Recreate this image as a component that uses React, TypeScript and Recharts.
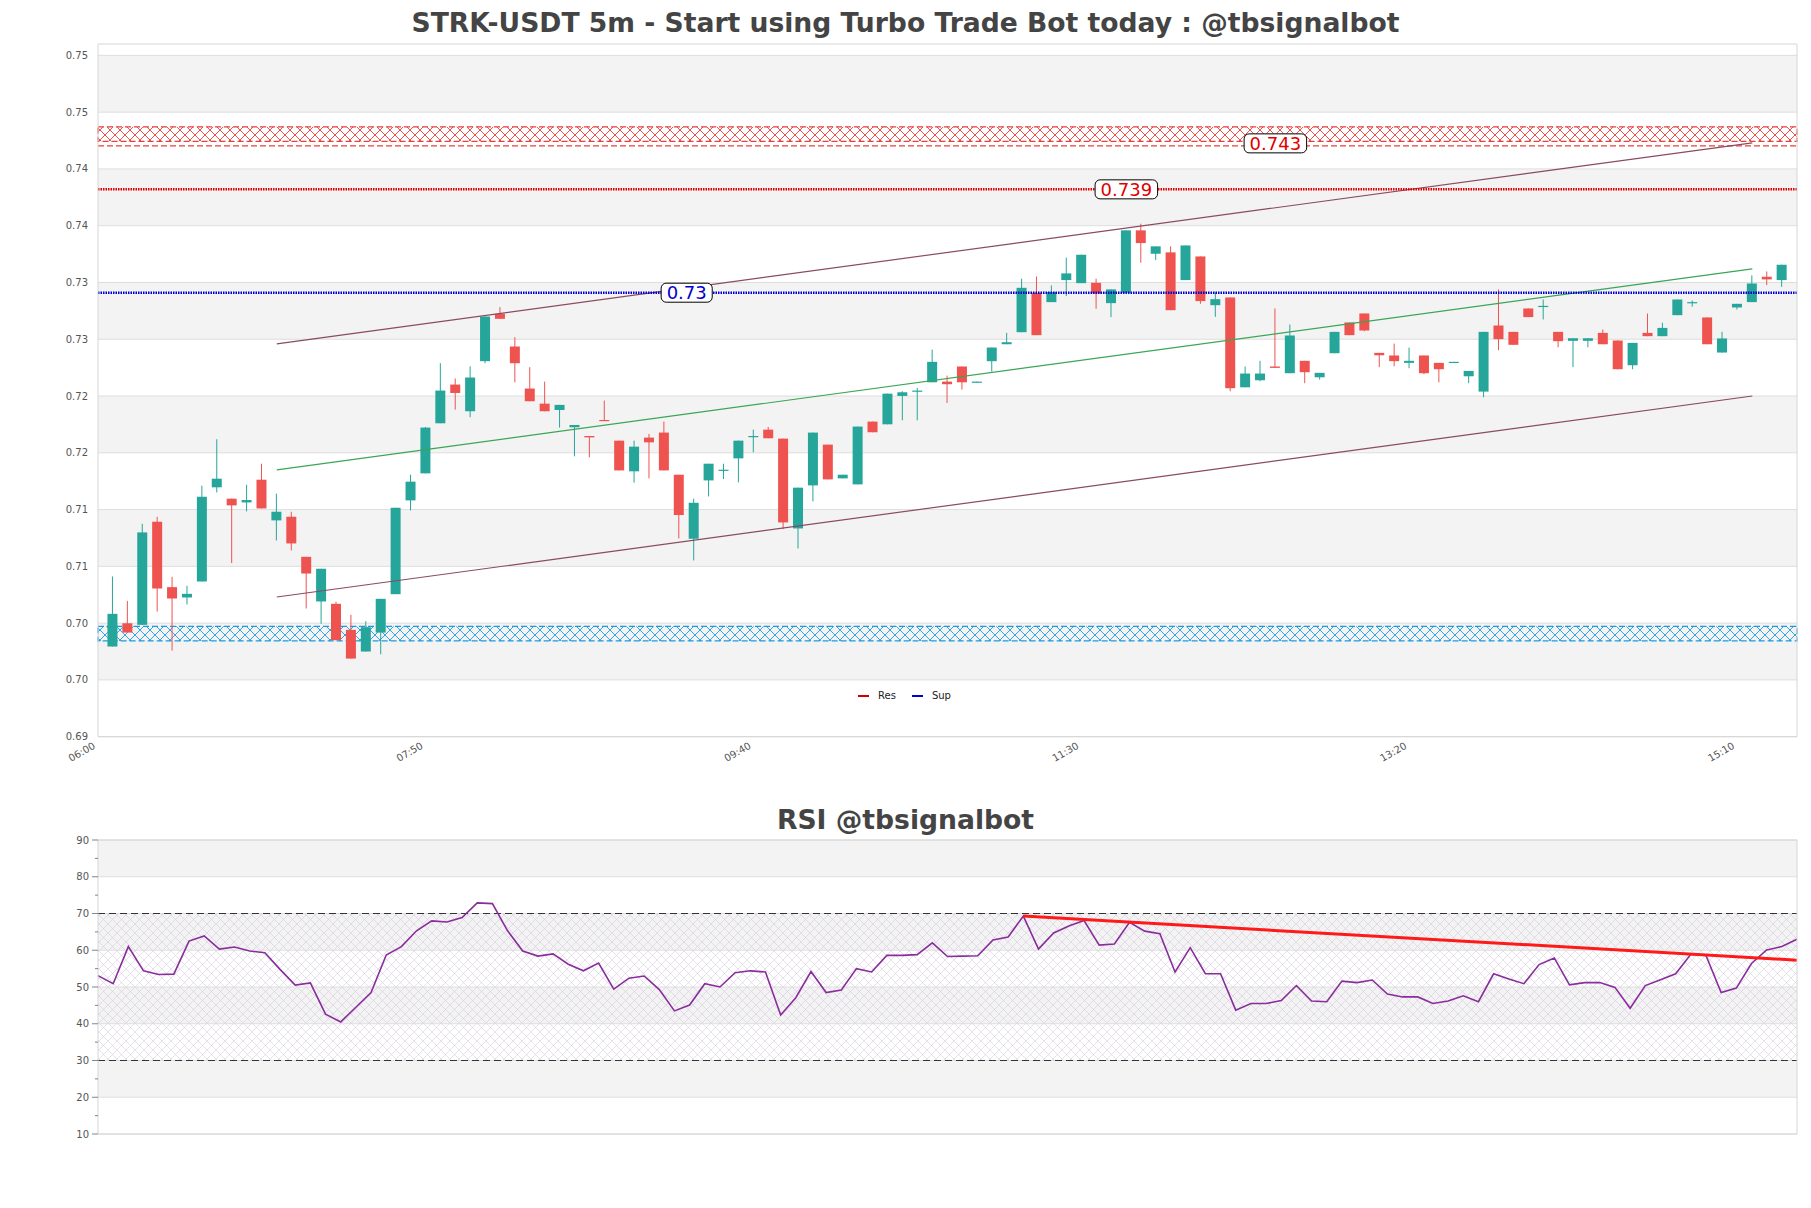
import React from 'react';
import {
  ComposedChart,
  Bar,
  Line,
  XAxis,
  YAxis,
  ReferenceArea,
  ReferenceLine,
  ReferenceDot,
} from 'recharts';

// 5m candles, 06:05 .. 15:25 (index 0..112)
const candleOpen = [
  0.69894, 0.70099, 0.70085, 0.70993, 0.70417, 0.70326, 0.70467, 0.71296, 0.71196, 0.71163,
  0.71363, 0.71005, 0.71037, 0.70684, 0.70291, 0.7027, 0.70041, 0.6985, 0.70017, 0.70355,
  0.71181, 0.71419, 0.7186, 0.72201, 0.71966, 0.72407, 0.72824, 0.72536, 0.72166, 0.72033,
  0.71977, 0.71825, 0.71748, 0.71889, 0.71707, 0.71437, 0.71734, 0.71778, 0.71407, 0.70843,
  0.71357, 0.71445, 0.71551, 0.71739, 0.71804, 0.71725, 0.70934, 0.71313, 0.71672, 0.71375,
  0.71322, 0.71875, 0.71851, 0.72101, 0.72142, 0.72221, 0.72227, 0.7236, 0.72221, 0.72407,
  0.72556, 0.72662, 0.73009, 0.72927, 0.73121, 0.73094, 0.73097, 0.72918, 0.73009, 0.73559,
  0.73353, 0.73365, 0.73121, 0.73329, 0.729, 0.72968, 0.72177, 0.72239, 0.7236, 0.72301,
  0.7241, 0.72265, 0.72477, 0.72748, 0.72827, 0.7248, 0.72457, 0.72392, 0.72457, 0.72392,
  0.72398, 0.72274, 0.72139, 0.72721, 0.72665, 0.72871, 0.72889, 0.72665, 0.72586, 0.72586,
  0.72656, 0.72589, 0.72371, 0.72656, 0.72627, 0.72812, 0.72921, 0.72792, 0.72483, 0.7288,
  0.72927, 0.7315, 0.73121,
];
const candleHigh = [
  0.70511, 0.70296, 0.70975, 0.71037, 0.70508, 0.70429, 0.7131, 0.71719, 0.71196, 0.71319,
  0.71504, 0.7124, 0.71081, 0.70684, 0.70579, 0.70288, 0.70173, 0.70117, 0.70314, 0.71116,
  0.71407, 0.71828, 0.72389, 0.72254, 0.72362, 0.728, 0.72883, 0.72618, 0.72354, 0.72227,
  0.72022, 0.71845, 0.71748, 0.7206, 0.71707, 0.71707, 0.71766, 0.71875, 0.71407, 0.71196,
  0.71504, 0.71504, 0.71707, 0.71804, 0.71828, 0.71725, 0.71293, 0.71778, 0.71672, 0.71407,
  0.71831, 0.71875, 0.72121, 0.72142, 0.72171, 0.72509, 0.7228, 0.7236, 0.72227, 0.72527,
  0.72656, 0.73133, 0.73153, 0.73074, 0.73318, 0.73344, 0.73133, 0.73039, 0.73559, 0.73617,
  0.73418, 0.73418, 0.73426, 0.73329, 0.73012, 0.72968, 0.7236, 0.7241, 0.72871, 0.7273,
  0.7241, 0.72304, 0.72665, 0.72748, 0.72827, 0.7248, 0.72562, 0.72527, 0.72457, 0.72392,
  0.72401, 0.72321, 0.72665, 0.73039, 0.72665, 0.72871, 0.7295, 0.72665, 0.72609, 0.72609,
  0.72686, 0.72589, 0.72568, 0.72827, 0.72745, 0.7295, 0.72942, 0.72792, 0.72665, 0.72912,
  0.73162, 0.73197, 0.73256,
];
const candleLow = [
  0.69894, 0.70017, 0.70085, 0.70202, 0.69858, 0.70264, 0.70467, 0.71251, 0.70629, 0.71084,
  0.7111, 0.70828, 0.7074, 0.70229, 0.70094, 0.6995, 0.69788, 0.6985, 0.69826, 0.70355,
  0.71093, 0.71419, 0.7186, 0.7198, 0.71913, 0.72389, 0.7278, 0.72221, 0.72054, 0.71966,
  0.71822, 0.71569, 0.7156, 0.71883, 0.71445, 0.71337, 0.71375, 0.71445, 0.70846, 0.70652,
  0.71216, 0.71369, 0.7134, 0.71604, 0.71728, 0.70928, 0.70758, 0.71172, 0.71366, 0.71375,
  0.71322, 0.71781, 0.71851, 0.71886, 0.71886, 0.72221, 0.72039, 0.72157, 0.72221, 0.72315,
  0.72556, 0.72662, 0.72636, 0.72927, 0.7298, 0.73094, 0.72868, 0.72795, 0.73009, 0.73274,
  0.73297, 0.72856, 0.73121, 0.72912, 0.72797, 0.72142, 0.72177, 0.7223, 0.72348, 0.72301,
  0.72213, 0.72245, 0.72477, 0.72636, 0.72671, 0.72354, 0.72362, 0.72345, 0.72292, 0.72221,
  0.72398, 0.72213, 0.72089, 0.72504, 0.72551, 0.72795, 0.72774, 0.7253, 0.72354, 0.7253,
  0.72556, 0.72336, 0.72336, 0.72627, 0.72627, 0.72812, 0.72886, 0.72556, 0.72483, 0.72862,
  0.72927, 0.73077, 0.73061,
];
const candleClose = [
  0.70182, 0.70017, 0.70899, 0.70405, 0.70317, 0.70358, 0.71213, 0.71372, 0.71137, 0.71184,
  0.7111, 0.71081, 0.70802, 0.70537, 0.70579, 0.6995, 0.69788, 0.70064, 0.70314, 0.71116,
  0.71346, 0.71822, 0.72148, 0.72127, 0.72263, 0.728, 0.7278, 0.72389, 0.72054, 0.71966,
  0.72022, 0.71845, 0.71736, 0.71883, 0.71445, 0.71654, 0.71692, 0.71445, 0.71052, 0.7116,
  0.71504, 0.71451, 0.71707, 0.71748, 0.71728, 0.70987, 0.71293, 0.71778, 0.71366, 0.71407,
  0.71831, 0.71781, 0.72121, 0.72133, 0.72148, 0.72401, 0.72204, 0.72221, 0.72227, 0.72527,
  0.72574, 0.73053, 0.72636, 0.73015, 0.7318, 0.73344, 0.73003, 0.73039, 0.73559, 0.73447,
  0.73418, 0.72856, 0.73426, 0.72936, 0.72953, 0.72169, 0.72298, 0.72298, 0.72348, 0.72633,
  0.7231, 0.72304, 0.72665, 0.72636, 0.72677, 0.72459, 0.72407, 0.7241, 0.72301, 0.72336,
  0.72401, 0.72321, 0.72665, 0.72601, 0.72551, 0.72795, 0.72894, 0.72583, 0.72609, 0.72609,
  0.72556, 0.72336, 0.72568, 0.72627, 0.727, 0.7295, 0.72927, 0.72556, 0.72607, 0.72912,
  0.73091, 0.73127, 0.73256,
];

// RSI, one value per candle
const rsiValues = [
  53.1, 50.9, 61.0, 54.4, 53.4, 53.5, 62.5, 63.9, 60.3, 60.9,
  59.8, 59.3, 54.8, 50.5, 51.1, 42.6, 40.5, 44.5, 48.5, 58.7,
  61.0, 65.3, 68.0, 67.7, 68.9, 72.9, 72.7, 65.3, 59.8, 58.4,
  59.0, 56.2, 54.4, 56.5, 49.4, 52.4, 53.0, 49.3, 43.5, 45.1,
  50.9, 50.0, 53.9, 54.4, 54.1, 42.4, 47.1, 54.2, 48.5, 49.2,
  55.0, 54.1, 58.6, 58.6, 58.8, 62.0, 58.3, 58.4, 58.5, 62.8,
  63.6, 69.3, 60.3, 64.7, 66.6, 68.1, 61.4, 61.7, 67.6, 65.2,
  64.5, 54.1, 60.7, 53.6, 53.6, 43.7, 45.5, 45.5, 46.3, 50.4,
  46.2, 46.0, 51.6, 51.2, 51.9, 48.1, 47.3, 47.3, 45.5, 46.2,
  47.6, 46.0, 53.6, 52.2, 50.9, 56.1, 57.9, 50.6, 51.2, 51.2,
  49.9, 44.2, 50.4, 52.0, 53.6, 58.9, 58.6, 48.5, 49.7, 56.4,
  60.1, 61.0, 63.0,
];

// channel lines (start / end index and price)
const channelX = [11, 110];
const channelUpper = [0.7256, 0.7433];
const channelMid = [0.7145, 0.7322];
const channelLower = [0.7033, 0.721];

// RSI trend line
const rsiTrendX = [61, 112];
const rsiTrendY = [69.3, 57.3];

// levels
const resLevel = 0.7392;
const supLevel = 0.7301;
const resZone = [0.74343, 0.74471];
const resZoneLine = 0.74303;
const supZone = [0.69943, 0.70072];

const tagX = [38.5, 68, 78];
const tagY = [0.7301, 0.7392, 0.74325];
const tagText = ['0.73', '0.739', '0.743'];
const tagColor = ['#0000d0', '#e00000', '#e00000'];

// axes
const priceDomain = [0.691, 0.752];
const priceTicks = [0.691, 0.696, 0.701, 0.706, 0.711, 0.716, 0.721, 0.726, 0.731, 0.736, 0.741, 0.746, 0.751];
const timeTickPos = [-1, 21, 43, 65, 87, 109];
const timeTickLabels = ['06:00', '07:50', '09:40', '11:30', '13:20', '15:10'];
const rsiMajorTicks = [10, 20, 30, 40, 50, 60, 70, 80, 90];
const rsiAllTicks = [10, 15, 20, 25, 30, 35, 40, 45, 50, 55, 60, 65, 70, 75, 80, 85, 90];

const UP = '#26a69a';
const DOWN = '#ef5350';
const BAND = '#f3f3f3';
const GRID = '#dedede';

const priceRows = candleOpen.map((o, k) => {
  const ci = channelX.indexOf(k);
  return {
    k,
    open: o,
    high: candleHigh[k],
    low: candleLow[k],
    close: candleClose[k],
    range: [candleLow[k], candleHigh[k]],
    upper: ci >= 0 ? channelUpper[ci] : null,
    mid: ci >= 0 ? channelMid[ci] : null,
    lower: ci >= 0 ? channelLower[ci] : null,
  };
});

const rsiRows = rsiValues.map((v, j) => {
  const ti = rsiTrendX.indexOf(j);
  return { j, rsi: v, trend: ti >= 0 ? rsiTrendY[ti] : null };
});

const Candle = (props: any) => {
  const { x, y, width, height, payload } = props;
  if (!payload || x == null) return null;
  const { open, close, high, low } = payload;
  const up = close >= open;
  const color = up ? UP : DOWN;
  const yHi = Math.min(y, y + height);
  const yLo = Math.max(y, y + height);
  const span = high - low;
  const py = (v: number) => (span > 0 ? yHi + ((high - v) / span) * (yLo - yHi) : yHi);
  const cx = x + width / 2;
  const top = py(Math.max(open, close));
  const bot = py(Math.min(open, close));
  return (
    <g>
      <line x1={cx} x2={cx} y1={yHi} y2={yLo} stroke={color} strokeWidth={1} />
      <rect x={x} y={top} width={width} height={Math.max(1.2, bot - top)} fill={color} />
    </g>
  );
};

const LevelTag = ({ cx, cy, text, color }: any) => {
  const fs = 18;
  let tw = 0;
  for (const ch of text) tw += ch === '.' ? 0.318 * fs : 0.636 * fs;
  const w = tw + 11;
  const h = 19;
  return (
    <g>
      <rect x={cx - w / 2} y={cy - h / 2} width={w} height={h} rx={5} ry={5} fill="#fff" stroke="#000" strokeWidth={1} />
      <text x={cx} y={cy} dy="0.36em" textAnchor="middle" fontSize={fs} fill={color}>
        {text}
      </text>
    </g>
  );
};

const TimeTick = ({ x, y, payload }: any) => {
  const i = timeTickPos.indexOf(payload.value);
  const px = x - 2;
  const py = y + 11;
  return (
    <text x={px} y={py} textAnchor="end" transform={`rotate(-30 ${px} ${py})`} fontSize={10} fill="#555">
      {i >= 0 ? timeTickLabels[i] : ''}
    </text>
  );
};

const RsiTick = ({ x, y, payload }: any) => {
  const major = payload.value % 10 === 0;
  return (
    <g>
      <line x1={x - (major ? 6 : 3)} x2={x} y1={y} y2={y} stroke="#666" strokeWidth={0.8} />
      {major && (
        <text x={x - 9} y={y} dy="0.35em" textAnchor="end" fontSize={10} fill="#555">
          {payload.value}
        </text>
      )}
    </g>
  );
};

const titleStyle: React.CSSProperties = {
  position: 'absolute',
  left: 0,
  width: 1811,
  textAlign: 'center',
  fontFamily: 'DejaVu Sans',
  fontWeight: 'bold',
  fontSize: 26.6,
  lineHeight: '30px',
  color: '#444',
};

export default function App() {
  const priceBands = [];
  for (let i = priceTicks.length - 2; i >= 0; i -= 2) {
    priceBands.push([priceTicks[i], priceTicks[i + 1]]);
  }
  const rsiBands = [];
  for (let i = rsiMajorTicks.length - 2; i >= 0; i -= 2) {
    rsiBands.push([rsiMajorTicks[i], rsiMajorTicks[i + 1]]);
  }

  return (
    <div
      style={{
        position: 'absolute',
        left: 0,
        top: 0,
        width: 1811,
        height: 1208,
        background: '#fff',
        fontFamily: 'DejaVu Sans',
      }}
    >
      <svg width={0} height={0} style={{ position: 'absolute' }}>
        <defs>
          <pattern id="hatchRed" patternUnits="userSpaceOnUse" width="10" height="10">
            <path d="M0,0 L10,10 M10,0 L0,10" stroke="#e8403c" strokeWidth="0.9" />
          </pattern>
          <pattern id="hatchBlue" patternUnits="userSpaceOnUse" width="10" height="10">
            <path d="M0,0 L10,10 M10,0 L0,10" stroke="#1e9be0" strokeWidth="0.9" />
          </pattern>
          <pattern id="hatchPurple" patternUnits="userSpaceOnUse" width="9" height="9">
            <path d="M0,0 L9,9 M9,0 L0,9" stroke="#cfc2dd" strokeWidth="0.5" />
          </pattern>
        </defs>
      </svg>

      <div style={{ ...titleStyle, top: 8 }}>STRK-USDT 5m - Start using Turbo Trade Bot today : @tbsignalbot</div>

      <div style={{ position: 'absolute', left: 0, top: 0 }}>
        <ComposedChart width={1811} height={780} data={priceRows} margin={{ top: 44, right: 14, bottom: 13.3, left: 28 }}>
          {priceBands.map(([a, b]) => (
            <ReferenceArea key={`pb${a}`} y1={a} y2={b} fill={BAND} fillOpacity={1} stroke="none" zIndex={-150} />
          ))}
          {priceTicks.map((t) => (
            <ReferenceLine key={`pg${t}`} y={t} stroke={GRID} strokeWidth={1} zIndex={-100} />
          ))}
          <ReferenceArea
            y1={resZone[0]}
            y2={resZone[1]}
            fill="url(#hatchRed)"
            fillOpacity={1}
            stroke="#e8403c"
            strokeDasharray="6 3"
            strokeWidth={1.2}
            zIndex={50}
          />
          <ReferenceLine y={resZoneLine} stroke="#e8403c" strokeDasharray="6 3" strokeWidth={1.2} zIndex={50} />
          <ReferenceArea
            y1={supZone[0]}
            y2={supZone[1]}
            fill="url(#hatchBlue)"
            fillOpacity={1}
            stroke="#1e9be0"
            strokeDasharray="6 3"
            strokeWidth={1.2}
            zIndex={50}
          />
          <XAxis
            type="number"
            dataKey="k"
            domain={[-1, 113]}
            ticks={timeTickPos}
            interval={0}
            height={30}
            tickLine={false}
            axisLine={false}
            tickSize={0}
            tickMargin={0}
            tick={<TimeTick />}
          />
          <YAxis
            type="number"
            domain={priceDomain}
            ticks={priceTicks}
            interval={0}
            width={70}
            tickLine={false}
            axisLine={false}
            tickSize={0}
            tickMargin={10}
            tick={{ fontSize: 10, fill: '#555' }}
            tickFormatter={(v: number) => v.toFixed(2)}
          />
          <Bar dataKey="range" barSize={10} shape={<Candle />} isAnimationActive={false} zIndex={300} />
          <Line dataKey="upper" stroke="#8b4a60" strokeWidth={1.2} dot={false} connectNulls isAnimationActive={false} zIndex={400} />
          <Line dataKey="mid" stroke="#3aa655" strokeWidth={1.2} dot={false} connectNulls isAnimationActive={false} zIndex={400} />
          <Line dataKey="lower" stroke="#8b4a60" strokeWidth={1.2} dot={false} connectNulls isAnimationActive={false} zIndex={400} />
          <ReferenceLine y={resLevel} stroke="#e00000" strokeWidth={2.5} strokeDasharray="1.5 1" zIndex={450} />
          <ReferenceLine y={supLevel} stroke="#0000d0" strokeWidth={2.5} strokeDasharray="1.5 1" zIndex={450} />
          {tagText.map((t, i) => (
            <ReferenceDot
              key={`tag${t}`}
              x={tagX[i]}
              y={tagY[i]}
              r={0}
              zIndex={700}
              shape={(p: any) => <LevelTag cx={p.cx} cy={p.cy} text={t} color={tagColor[i]} />}
            />
          ))}
          <ReferenceArea
            x1={-1}
            x2={113}
            y1={priceDomain[0]}
            y2={priceDomain[1]}
            fill="none"
            stroke="#d6d6d6"
            strokeWidth={1}
            zIndex={800}
          />
        </ComposedChart>
      </div>

      <div
        style={{
          position: 'absolute',
          top: 689,
          left: 858,
          display: 'flex',
          alignItems: 'center',
          fontSize: 10,
          color: '#222',
          lineHeight: '14px',
        }}
      >
        <span style={{ display: 'inline-block', width: 11, height: 2.5, background: '#d00000', marginRight: 9 }} />
        <span style={{ marginRight: 16 }}>Res</span>
        <span style={{ display: 'inline-block', width: 11, height: 2.5, background: '#0000d0', marginRight: 9 }} />
        <span>Sup</span>
      </div>

      <div style={{ ...titleStyle, top: 805 }}>RSI @tbsignalbot</div>

      <div style={{ position: 'absolute', left: 0, top: 780 }}>
        <ComposedChart width={1811} height={400} data={rsiRows} margin={{ top: 60, right: 14, bottom: 46, left: 28 }}>
          {rsiBands.map(([a, b]) => (
            <ReferenceArea key={`rb${a}`} y1={a} y2={b} fill={BAND} fillOpacity={1} stroke="none" zIndex={-150} />
          ))}
          <ReferenceArea y1={30} y2={70} fill="url(#hatchPurple)" fillOpacity={1} stroke="none" zIndex={-120} />
          {rsiMajorTicks.map((t) => (
            <ReferenceLine key={`rg${t}`} y={t} stroke={GRID} strokeWidth={1} zIndex={-100} />
          ))}
          <ReferenceLine y={70} stroke="#333" strokeDasharray="7 4" strokeWidth={1.2} zIndex={50} />
          <ReferenceLine y={30} stroke="#333" strokeDasharray="7 4" strokeWidth={1.2} zIndex={50} />
          <XAxis type="number" dataKey="j" domain={[0, 112]} hide height={0} />
          <YAxis
            type="number"
            domain={[10, 90]}
            ticks={rsiAllTicks}
            interval={0}
            width={70}
            tickLine={false}
            axisLine={false}
            tickSize={0}
            tickMargin={0}
            tick={<RsiTick />}
          />
          <Line dataKey="rsi" stroke="#8a2c9c" strokeWidth={1.6} dot={false} isAnimationActive={false} zIndex={400} />
          <Line
            dataKey="trend"
            stroke="#ff1a1a"
            strokeWidth={3}
            dot={false}
            connectNulls
            isAnimationActive={false}
            zIndex={420}
          />
          <ReferenceArea x1={0} x2={112} y1={10} y2={90} fill="none" stroke="#d6d6d6" strokeWidth={1} zIndex={800} />
        </ComposedChart>
      </div>
    </div>
  );
}
